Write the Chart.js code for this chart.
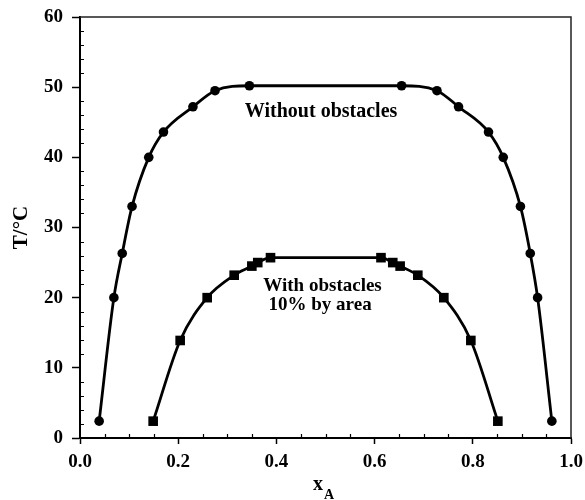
<!DOCTYPE html>
<html>
<head>
<meta charset="utf-8">
<script src="https://cdn.jsdelivr.net/npm/chart.js@4.4.0/dist/chart.umd.min.js"></script>
<style>
  body { margin: 0; background: #fff; }
  canvas { display: block; }
</style>
</head>
<body>
<canvas id="phaseChart" width="585" height="500"></canvas>
<script>
// values
var freeX = [0.039, 0.069, 0.086, 0.106, 0.140, 0.170, 0.230, 0.275, 0.345, 0.655, 0.727, 0.771, 0.832, 0.862, 0.897, 0.917, 0.932, 0.961];
var freeT = [2.4, 20.0, 26.3, 33.0, 40.0, 43.6, 47.2, 49.5, 50.2, 50.2, 49.5, 47.2, 43.6, 40.0, 33.0, 26.3, 20.0, 2.4];

var obstX = [0.149, 0.204, 0.259, 0.314, 0.350, 0.362, 0.388, 0.613, 0.637, 0.652, 0.688, 0.741, 0.796, 0.851];
var obstT = [2.4, 13.9, 20.0, 23.2, 24.5, 25.0, 25.7, 25.7, 25.0, 24.5, 23.2, 20.0, 13.9, 2.4];

var xTicks = [0, 0.2, 0.4, 0.6, 0.8, 1.0];
var yTicks = [0, 10, 20, 30, 40, 50, 60];

var serif = "'Liberation Serif', 'Times New Roman', serif";

function toPoints(xs, ys) {
    return xs.map(function (x, i) { return { x: x, y: ys[i] }; });
}

// minor ticks, frame, axis title x_A and the two labels
var extras = {
    id: 'extras',
    afterDraw: function (chart) {
        var ctx = chart.ctx;
        var xs = chart.scales.x, ys = chart.scales.y;
        var a = chart.chartArea;
        ctx.save();
        ctx.strokeStyle = '#000';
        ctx.lineWidth = 1.2;
        ctx.beginPath();
        for (var t = 2; t < 60; t += 2) {
            if (t % 10 === 0) continue;
            var py = Math.round(ys.getPixelForValue(t)) + 0.5;
            ctx.moveTo(a.left, py);
            ctx.lineTo(a.left + 4, py);
        }
        for (var k = 1; k < 20; k++) {
            if (k % 4 === 0) continue;
            var px = Math.round(xs.getPixelForValue(k * 0.05)) + 0.5;
            ctx.moveTo(px, a.bottom);
            ctx.lineTo(px, a.bottom - 4);
        }
        ctx.stroke();

        ctx.strokeStyle = '#222';
        ctx.lineWidth = 1.5;
        ctx.beginPath();
        ctx.moveTo(a.left, a.top);
        ctx.lineTo(a.right, a.top);
        ctx.lineTo(a.right, a.bottom);
        ctx.stroke();

        ctx.fillStyle = '#000';
        ctx.textBaseline = 'alphabetic';
        ctx.textAlign = 'left';
        ctx.font = 'bold 20px ' + serif;
        ctx.fillText('x', 313, 490);
        ctx.font = 'bold 14px ' + serif;
        ctx.fillText('A', 324, 499);

        ctx.textAlign = 'center';
        ctx.font = 'bold 20px ' + serif;
        ctx.fillText('Without obstacles', xs.getPixelForValue(0.491), ys.getPixelForValue(45.8));
        ctx.font = 'bold 19px ' + serif;
        ctx.fillText('With obstacles', xs.getPixelForValue(0.494), ys.getPixelForValue(21.0));
        ctx.fillText('10% by area', xs.getPixelForValue(0.489), ys.getPixelForValue(18.3));
        ctx.restore();
    }
};

var phaseChart = new Chart(document.getElementById('phaseChart'), {
    type: 'scatter',
    data: {
        datasets: [{
            label: 'Without obstacles',
            data: toPoints(freeX, freeT),
            showLine: true,
            cubicInterpolationMode: 'monotone',
            borderColor: '#000',
            borderWidth: 2.8,
            pointStyle: 'circle',
            pointRadius: 4.8,
            pointBackgroundColor: '#000',
            pointBorderWidth: 0
        }, {
            label: 'With obstacles 10% by area',
            data: toPoints(obstX, obstT),
            showLine: true,
            cubicInterpolationMode: 'monotone',
            borderColor: '#000',
            borderWidth: 2.8,
            pointStyle: 'rect',
            pointRadius: 6.8,
            pointBackgroundColor: '#000',
            pointBorderWidth: 0
        }]
    },
    plugins: [extras],
    options: {
        responsive: false,
        animation: false,
        devicePixelRatio: 1,
        layout: { padding: { top: 17, right: 14, left: 0, bottom: 0 } },
        plugins: {
            legend: { display: false },
            tooltip: { enabled: false }
        },
        scales: {
            x: {
                type: 'linear',
                min: 0,
                max: 1,
                afterBuildTicks: function (scale) {
                    scale.ticks = xTicks.map(function (v) { return { value: v }; });
                },
                afterFit: function (scale) {
                    scale.height = 62;
                    scale.paddingLeft = 0;
                    scale.paddingRight = 0;
                },
                ticks: {
                    color: '#000',
                    padding: 7,
                    font: { family: serif, size: 19, weight: 'bold' },
                    callback: function (v) { return v.toFixed(1); }
                },
                grid: {
                    drawOnChartArea: false,
                    tickLength: 6,
                    tickColor: '#000',
                    tickWidth: 1.5
                },
                border: { color: '#000', width: 2 }
            },
            y: {
                min: 0,
                max: 60,
                afterBuildTicks: function (scale) {
                    scale.ticks = yTicks.map(function (v) { return { value: v }; });
                },
                afterFit: function (scale) {
                    scale.width = 80;
                    scale.paddingTop = 0;
                    scale.paddingBottom = 0;
                },
                title: {
                    display: true,
                    text: 'T/°C',
                    color: '#000',
                    padding: { top: 9, bottom: 0 },
                    font: { family: serif, size: 21, weight: 'bold' }
                },
                ticks: {
                    color: '#000',
                    padding: 9,
                    font: { family: serif, size: 19, weight: 'bold' }
                },
                grid: {
                    drawOnChartArea: false,
                    tickLength: 8,
                    tickColor: '#000',
                    tickWidth: 1.5
                },
                border: { color: '#000', width: 2 }
            }
        }
    }
});
</script>
</body>
</html>
